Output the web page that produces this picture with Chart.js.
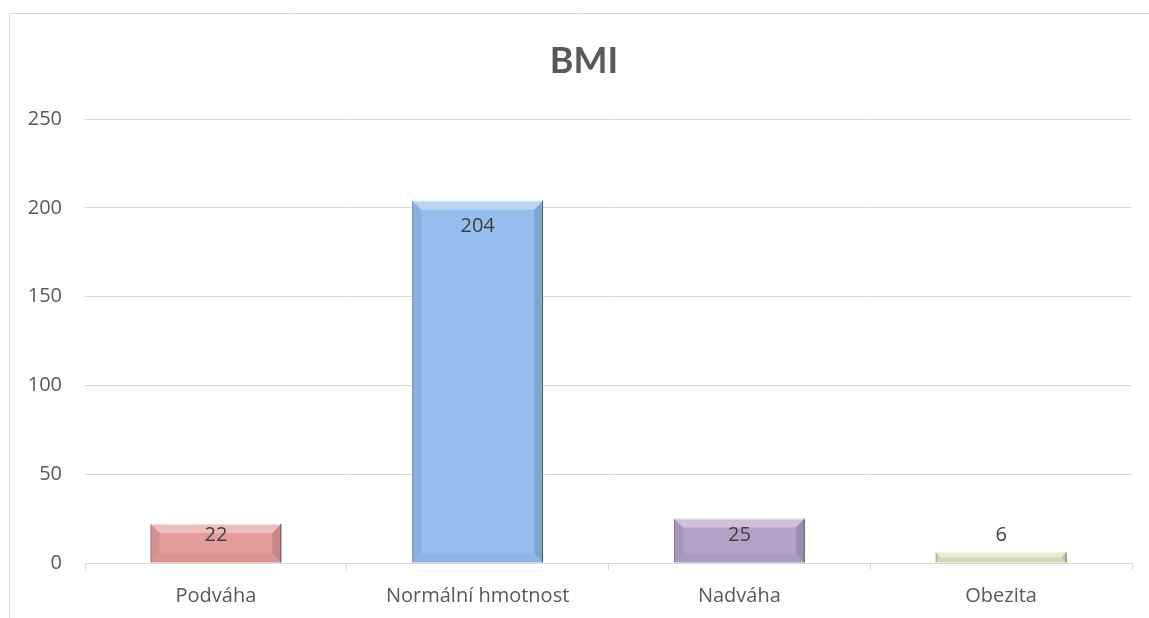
<!DOCTYPE html>
<html lang="cs">
<head>
<meta charset="utf-8">
<title>BMI</title>
<script src="https://cdn.jsdelivr.net/npm/chart.js@4/dist/chart.umd.min.js"></script>
<style>
  html, body { margin: 0; padding: 0; background: #fff; }
  #wrap { width: 1149px; height: 618px; position: relative; }
</style>
</head>
<body>
<div id="wrap"><canvas id="bmiChart"></canvas></div>
<script>
// hodnoty grafu
const categories = ['Podváha', 'Normální hmotnost', 'Nadváha', 'Obezita'];
const counts = [22, 204, 25, 6];
const barColors = ['#E59C9C', '#95BDEE', '#B3A2C7', '#D7E4BD'];
const yTicks = [0, 50, 100, 150, 200, 250];

const FONT = '"Open Sans", Lato, sans-serif';
const TITLE_FONT = 'Lato, "Open Sans", sans-serif';

/* ramecek kolem grafu a nadpis (ramecek pokracuje za okraj, proto nadpis neni uprostred platna) */
const frame = {
  id: 'frame',
  beforeDraw(chart) {
    const c = chart.ctx;
    c.save();
    c.fillStyle = '#fff';
    c.fillRect(0, 0, chart.width, chart.height);
    c.strokeStyle = '#d9d9d9';
    c.lineWidth = 1;
    c.beginPath();
    c.moveTo(9.5, chart.height);
    c.lineTo(9.5, 13.5);
    c.lineTo(chart.width, 13.5);
    c.stroke();
    c.font = 'bold 36px ' + TITLE_FONT;
    c.fillStyle = '#595959';
    c.textAlign = 'center';
    c.textBaseline = 'middle';
    c.fillText('BMI', 584, 61);
    c.restore();
  }
};

/* zkoseni hran sloupcu (efekt jako v Excelu) */
const bevel = {
  id: 'bevel',
  afterDatasetsDraw(chart) {
    const c = chart.ctx;
    chart.getDatasetMeta(0).data.forEach(function(bar) {
      const p = bar.getProps(['x', 'y', 'base', 'width'], true);
      const l = p.x - p.width / 2, r = p.x + p.width / 2;
      const t = p.y, b = p.base;
      const d = Math.min(9, (b - t) / 2);
      c.save();
      // horni hrana - svetla
      c.fillStyle = 'rgba(255,255,255,0.35)';
      c.beginPath();
      c.moveTo(l, t); c.lineTo(r, t); c.lineTo(r - d, t + d); c.lineTo(l + d, t + d);
      c.closePath(); c.fill();
      // leva hrana
      c.fillStyle = 'rgba(0,0,0,0.07)';
      c.beginPath();
      c.moveTo(l, t); c.lineTo(l + d, t + d); c.lineTo(l + d, b - d); c.lineTo(l, b);
      c.closePath(); c.fill();
      // prava hrana - tmavsi
      c.fillStyle = 'rgba(0,0,0,0.13)';
      c.beginPath();
      c.moveTo(r, t); c.lineTo(r - d, t + d); c.lineTo(r - d, b - d); c.lineTo(r, b);
      c.closePath(); c.fill();
      // spodni hrana - jen naznak
      c.fillStyle = 'rgba(0,0,0,0.04)';
      c.beginPath();
      c.moveTo(l, b); c.lineTo(l + d, b - d); c.lineTo(r - d, b - d); c.lineTo(r, b);
      c.closePath(); c.fill();
      // svetla linka nahore, tmave linky po stranach
      c.strokeStyle = 'rgba(255,255,255,0.6)';
      c.lineWidth = 1;
      c.beginPath(); c.moveTo(l + 1, t + 0.5); c.lineTo(r - 1, t + 0.5); c.stroke();
      c.strokeStyle = 'rgba(40,40,40,0.55)';
      c.beginPath(); c.moveTo(r - 0.5, t); c.lineTo(r - 0.5, b); c.stroke();
      c.strokeStyle = 'rgba(40,40,40,0.25)';
      c.beginPath(); c.moveTo(l + 0.5, t + 1); c.lineTo(l + 0.5, b); c.stroke();
      c.restore();
    });
  }
};

/* popisky hodnot */
const valueLabels = {
  id: 'valueLabels',
  afterDatasetsDraw(chart) {
    const c = chart.ctx;
    const ds = chart.data.datasets[0];
    c.save();
    c.font = '20px ' + FONT;
    c.fillStyle = '#404040';
    c.textAlign = 'center';
    c.textBaseline = 'middle';
    chart.getDatasetMeta(0).data.forEach(function(bar, i) {
      const p = bar.getProps(['x', 'y', 'base'], true);
      const h = p.base - p.y;
      let ly;
      if (h > 60) ly = p.y + 26;
      else ly = p.base - 27;
      c.fillText(String(ds.data[i]), p.x, ly);
    });
    c.restore();
  }
};

new Chart(document.getElementById('bmiChart'), {
  type: 'bar',
  data: {
    labels: categories,
    datasets: [{
      data: counts,
      backgroundColor: barColors,
      borderWidth: 0,
      categoryPercentage: 1,
      barPercentage: 0.5
    }]
  },
  options: {
    responsive: true,
    maintainAspectRatio: false,
    animation: false,
    events: [],
    layout: { padding: { left: 0, right: 17, top: 119, bottom: 0 } },
    plugins: {
      legend: { display: false },
      tooltip: { enabled: false },
      title: { display: false }
    },
    scales: {
      x: {
        grid: {
          offset: true,
          drawOnChartArea: false,
          drawTicks: true,
          tickLength: 7,
          color: '#d9d9d9'
        },
        border: { display: true, color: '#d9d9d9', width: 1 },
        ticks: {
          color: '#595959',
          font: { family: FONT, size: 20 },
          padding: 14,
          maxRotation: 0
        },
        afterFit(scale) { scale.height = 55; }
      },
      y: {
        min: 0,
        max: 250,
        afterBuildTicks(scale) { scale.ticks = yTicks.map(v => ({ value: v })); },
        grid: { color: '#d9d9d9', drawTicks: false },
        border: { display: false },
        ticks: {
          color: '#595959',
          font: { family: FONT, size: 20 },
          padding: 23
        },
        afterFit(scale) { scale.width = 85; }
      }
    }
  },
  plugins: [frame, bevel, valueLabels]
});
</script>
</body>
</html>
